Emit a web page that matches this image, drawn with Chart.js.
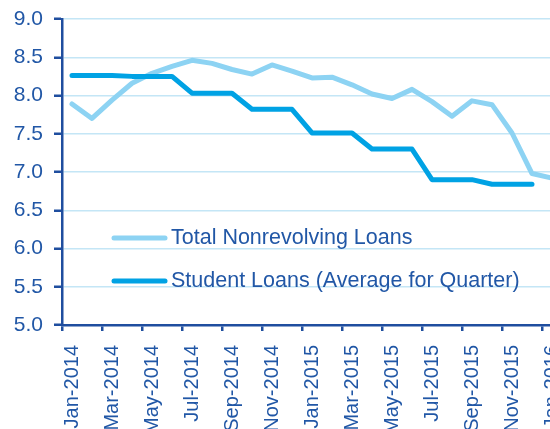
<!DOCTYPE html>
<html>
<head>
<meta charset="utf-8">
<script src="https://cdn.jsdelivr.net/npm/chart.js@4.4.1/dist/chart.umd.min.js"></script>
<style>
html, body { margin: 0; padding: 0; overflow: hidden; background: #ffffff; width: 550px; height: 429px; }
#wrap { position: absolute; left: 0; top: 0; width: 562px; height: 429px; }
</style>
</head>
<body>
<div id="wrap"><canvas id="c" width="562" height="429"></canvas></div>
<script>
const months = ["Jan-2014","Feb-2014","Mar-2014","Apr-2014","May-2014","Jun-2014","Jul-2014","Aug-2014","Sep-2014","Oct-2014","Nov-2014","Dec-2014",
  "Jan-2015","Feb-2015","Mar-2015","Apr-2015","May-2015","Jun-2015","Jul-2015","Aug-2015","Sep-2015","Oct-2015","Nov-2015","Dec-2015","Jan-2016"];
const totalNonrevolving = [7.89, 7.70, 7.94, 8.16, 8.29, 8.38, 8.46, 8.42, 8.34, 8.28, 8.40, 8.32,
  8.23, 8.24, 8.14, 8.02, 7.96, 8.08, 7.92, 7.73, 7.93, 7.88, 7.51, 6.98, 6.92];
const studentLoans = [8.26, 8.26, 8.26, 8.25, 8.25, 8.25, 8.03, 8.03, 8.03, 7.82, 7.82, 7.82,
  7.51, 7.51, 7.51, 7.30, 7.30, 7.30, 6.90, 6.90, 6.90, 6.84, 6.84, 6.84, null];
const seriesNames = ["Total Nonrevolving Loans", "Student Loans (Average for Quarter)"];
const yTicks = [5.0, 5.5, 6.0, 6.5, 7.0, 7.5, 8.0, 8.5, 9.0];

const TEXT = "#2157A6";
const AXIS = "#1F4E9F";
const GRID = "#C4E6F6";
const LIGHT = "#8DD3F3";
const DARK = "#00A2E4";
const FONT = "'Liberation Sans', Arial, sans-serif";

const legendPlugin = {
  id: 'insideLegend',
  afterDatasetsDraw(chart) {
    const ctx = chart.ctx;
    const a = chart.chartArea;
    const rows = [a.top + 219, a.top + 262];
    ctx.save();
    chart.data.datasets.forEach((ds, i) => {
      const y = rows[i];
      ctx.beginPath();
      ctx.lineWidth = 5;
      ctx.lineCap = 'round';
      ctx.strokeStyle = ds.borderColor;
      ctx.moveTo(a.left + 52, y);
      ctx.lineTo(a.left + 103, y);
      ctx.stroke();
      ctx.fillStyle = TEXT;
      ctx.font = "21.5px " + FONT;
      ctx.textBaseline = 'middle';
      ctx.textAlign = 'left';
      ctx.fillText(ds.label, a.left + 109, y);
    });
    ctx.restore();
  }
};

new Chart(document.getElementById('c'), {
  type: 'line',
  data: {
    labels: months,
    datasets: [
      { label: seriesNames[0], data: totalNonrevolving, borderColor: LIGHT, backgroundColor: LIGHT, order: 2,
        borderWidth: 5, pointRadius: 0, tension: 0, borderJoinStyle: 'round', borderCapStyle: 'round', spanGaps: false },
      { label: seriesNames[1], data: studentLoans, borderColor: DARK, backgroundColor: DARK, order: 1,
        borderWidth: 5, pointRadius: 0, tension: 0, borderJoinStyle: 'round', borderCapStyle: 'round', spanGaps: false }
    ]
  },
  options: {
    responsive: false,
    animation: false,
    devicePixelRatio: 1,
    layout: { padding: { top: 19, left: 0, right: 0, bottom: 0 } },
    plugins: { legend: { display: false }, tooltip: { enabled: false } },
    scales: {
      x: {
        type: 'category',
        offset: true,
        grid: {
          offset: true,
          drawOnChartArea: false,
          drawTicks: true,
          tickLength: 6,
          lineWidth: 2.5,
          color: (c) => (c.index % 2 === 0 ? AXIS : 'rgba(0,0,0,0)')
        },
        border: { display: true, color: AXIS, width: 2.5 },
        ticks: {
          autoSkip: false,
          maxRotation: 90,
          minRotation: 90,
          padding: 14,
          color: TEXT,
          font: { family: FONT, size: 20 },
          callback: function(v, i) { return i % 2 === 0 ? this.getLabelForValue(v) : ''; }
        },
        afterFit: (s) => { s.height = 104; s.paddingLeft = 0; s.paddingRight = 0; }
      },
      y: {
        min: 5, max: 9,
        afterBuildTicks: (s) => { s.ticks = yTicks.map(v => ({ value: v })); },
        grid: {
          color: GRID,
          lineWidth: 1.5,
          drawTicks: true,
          tickLength: 8,
          tickColor: AXIS,
          tickWidth: 2.5
        },
        border: { display: true, color: AXIS, width: 2.5 },
        ticks: {
          padding: 11,
          color: TEXT,
          font: { family: FONT, size: 21 },
          callback: (v) => Number(v).toFixed(1)
        },
        afterFit: (s) => { s.width = 62; s.paddingTop = 0; s.paddingBottom = 0; }
      }
    }
  },
  plugins: [legendPlugin]
});
</script>
</body>
</html>
